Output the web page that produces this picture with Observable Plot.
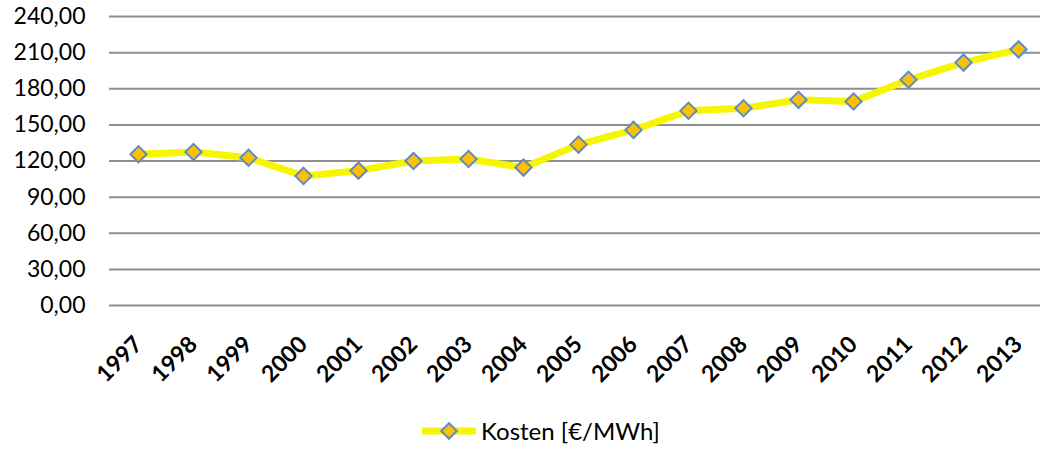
<!DOCTYPE html>
<html>
<head>
<meta charset="utf-8">
<script src="https://cdn.jsdelivr.net/npm/d3@7"></script>
<script src="https://cdn.jsdelivr.net/npm/@observablehq/plot@0.6"></script>
<style>
  html, body { margin: 0; padding: 0; background: #fff; }
  #chart { width: 1040px; }
  .legend { height: 59px; display: flex; justify-content: center; align-items: flex-start; padding-top: 26px; padding-left: 40px; box-sizing: border-box; font-family: Lato, sans-serif; font-size: 24px; color: #000; }
  .legend svg { margin-right: 3px; }
</style>
</head>
<body>
<div id="chart"></div>
<script>
const years = ["1997","1998","1999","2000","2001","2002","2003","2004","2005","2006","2007","2008","2009","2010","2011","2012","2013"];
const costs = [125.6,127.5,122.7,107.6,112.0,120.0,121.7,114.5,133.6,145.8,161.7,163.8,170.8,169.4,187.5,201.7,212.7];
const yTicks = [0,30,60,90,120,150,180,210,240];
const seriesName = "Kosten [€/MWh]";

const data = years.map((y, i) => ({year: y, cost: costs[i]}));

const lineColor = "#f6f600";
const dotFill = "#ffc000";
const dotStroke = "#5f8bc6";

const chart = Plot.plot({
  width: 1040,
  height: 390,
  marginLeft: 109,
  marginRight: 0,
  marginTop: 16,
  marginBottom: 85,
  style: {fontFamily: "Lato, sans-serif", fontSize: "22px", color: "#000", background: "#fff"},
  x: {type: "point", domain: years, range: [137, 1019], padding: 0, label: null},
  y: {domain: [0, 240], label: null},
  marks: [
    Plot.ruleY(yTicks, {stroke: "#8e8e8e", strokeWidth: 2}),
    Plot.axisY({ticks: yTicks, tickSize: 0, tickPadding: 24, tickFormat: d => d.toFixed(2).replace(".", ","), fontSize: 23, label: null}),
    Plot.axisX({tickSize: 0, tickRotate: -45, tickPadding: 35, fontSize: 23, fontWeight: "bold", label: null}),
    Plot.line(data, {x: "year", y: "cost", stroke: lineColor, strokeWidth: 7}),
    Plot.dot(data, {x: "year", y: "cost", symbol: "square", rotate: 45, r: 6.5, fill: dotFill, stroke: dotStroke, strokeWidth: 2})
  ]
});
document.getElementById("chart").appendChild(chart);

const legend = document.createElement("div");
legend.className = "legend";
legend.innerHTML = `<svg width="58" height="30" viewBox="0 0 58 30">
  <line x1="2" y1="15" x2="56" y2="15" stroke="${lineColor}" stroke-width="7"/>
  <rect x="23.5" y="9.5" width="11" height="11" transform="rotate(45 29 15)" fill="${dotFill}" stroke="${dotStroke}" stroke-width="2"/>
</svg><span>${seriesName}</span>`;
document.getElementById("chart").appendChild(legend);
</script>
</body>
</html>
